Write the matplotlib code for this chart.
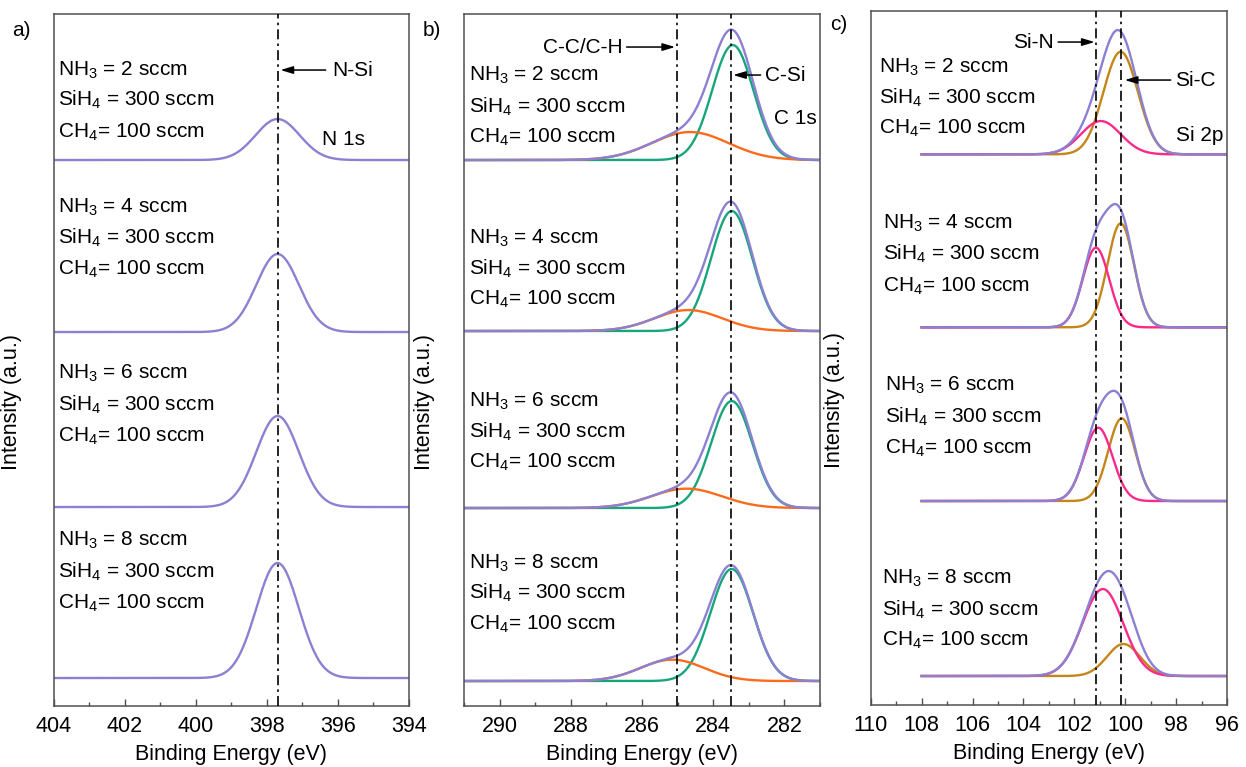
import matplotlib
matplotlib.use("Agg")
import matplotlib.pyplot as plt
from matplotlib.ticker import MultipleLocator
import numpy as np

plt.rcParams['font.family'] = ['Liberation Sans', 'DejaVu Sans']
plt.rcParams['mathtext.fontset'] = 'custom'
plt.rcParams['mathtext.rm'] = 'Liberation Sans'
plt.rcParams['mathtext.it'] = 'Liberation Sans:italic'

# flow conditions for each spectrum (top to bottom)
nh3_flows = [2, 4, 6, 8]

# N 1s peaks (centre eV, height, sigma) and vertical offset of each spectrum
n1s_center = [397.7, 397.7, 397.7, 397.7]
n1s_height = [41, 78, 91, 115]
n1s_sigma = [0.62, 0.6, 0.6, 0.6]
a_offsets = [546, 374, 199, 28]

# C 1s: C-Si and C-C/C-H components
csi_center = [283.45, 283.48, 283.48, 283.48]
csi_height = [115, 120, 107, 112]
csi_sigma = [0.58, 0.58, 0.58, 0.6]
cc_center = [284.65, 284.7, 284.75, 285.15]
cc_height = [28, 21, 19.4, 21.4]
cc_sigma = [1.08, 0.95, 0.99, 0.9]
b_offsets = [546, 375, 198, 25]

# Si 2p: Si-C and Si-N components
sic_center = [100.18, 100.18, 100.14, 100.07]
sic_height = [102.6, 104, 82.7, 32]
sic_sigma = [0.68, 0.52, 0.53, 0.65]
sin_center = [100.96, 101.15, 101.06, 100.88]
sin_height = [33.3, 79.6, 73.3, 87]
sin_sigma = [0.78, 0.52, 0.56, 0.8]
c_offsets = [550.7, 377.7, 204, 29]

# reference lines
n_si_line = 397.7
cc_line = 285.02
csi_line = 283.5
sin_line = 101.15
sic_line = 100.18

env_c = '#8b80d2'
green_c = '#17a57d'
orange_c = '#fb6b1b'
pink_c = '#fb2a8a'
brown_c = '#c4861a'
spine_c = '#505050'
fs = 15


def peak(x, c, h, s):
    return h * np.exp(-(x - c) ** 2 / (2 * s ** 2))


def cond_text(n):
    return ['NH$_3$ = %d sccm' % n, 'SiH$_4$ = 300 sccm', 'CH$_4$= 100 sccm']


def vline(ax, x):
    ax.axvline(x, color='k', lw=1.2, dashes=(6, 2.5, 1.5, 2.5), zorder=5)


def style(ax, lim, major, ylim):
    ax.set_xlim(*lim)
    ax.set_ylim(0, ylim)
    ax.xaxis.set_major_locator(MultipleLocator(major))
    ax.xaxis.set_minor_locator(MultipleLocator(1))
    ax.tick_params(axis='x', which='major', direction='in', length=5, width=1,
                   color=spine_c, labelsize=15.5, pad=7)
    ax.tick_params(axis='x', which='minor', direction='in', length=3, width=1,
                   color=spine_c)
    ax.set_yticks([])
    for s in ax.spines.values():
        s.set_color(spine_c)
        s.set_linewidth(1.1)
    ax.set_xlabel('Binding Energy (eV)', fontsize=15.5, labelpad=5)
    ax.set_ylabel('Intensity (a.u.)', fontsize=15.5)


fig = plt.figure(figsize=(12.46, 7.67), dpi=100)
ax_a = fig.add_axes([0.0433, 0.0795, 0.2849, 0.9022])
ax_b = fig.add_axes([0.3724, 0.0795, 0.2857, 0.9022])
ax_c = fig.add_axes([0.6988, 0.0808, 0.2860, 0.9048])

# ---- a) N 1s
xa = np.linspace(404, 394, 800)
for i in range(4):
    ax_a.plot(xa, a_offsets[i] + peak(xa, n1s_center[i], n1s_height[i], n1s_sigma[i]),
              color=env_c, lw=1.7)
vline(ax_a, n_si_line)
style(ax_a, (404, 394), 2, 692)
ax_a.yaxis.set_label_coords(-0.09, 0.44)
a_text_y = [[636, 606, 574], [499, 468, 437], [333, 301, 270], [166, 134, 103]]
for i in range(4):
    for t, y in zip(cond_text(nh3_flows[i]), a_text_y[i]):
        ax_a.text(0.012, y, t, transform=ax_a.get_yaxis_transform(), fontsize=fs,
                  va='center', ha='left')
ax_a.text(396.45, 567, 'N 1s', fontsize=fs, va='center', ha='left')
ax_a.annotate('N-Si', xy=(397.62, 636), xytext=(396.15, 636), fontsize=fs,
              va='center', ha='left',
              arrowprops=dict(arrowstyle='-|>,head_length=0.5,head_width=0.15',
                              color='k', lw=1.1, shrinkA=3, shrinkB=0))

# ---- b) C 1s
xb = np.linspace(291, 281, 800)
for i in range(4):
    g = peak(xb, csi_center[i], csi_height[i], csi_sigma[i])
    o = peak(xb, cc_center[i], cc_height[i], cc_sigma[i])
    ax_b.plot(xb, b_offsets[i] + g, color=green_c, lw=1.7)
    ax_b.plot(xb, b_offsets[i] + o, color=orange_c, lw=1.7)
    ax_b.plot(xb, b_offsets[i] + g + o, color=env_c, lw=1.7)
vline(ax_b, cc_line)
vline(ax_b, csi_line)
style(ax_b, (291, 281), 2, 692)
ax_b.yaxis.set_label_coords(-0.081, 0.44)
b_text_y = [[631, 599, 569], [468, 437, 407], [305, 274, 244], [143, 113, 82]]
for i in range(4):
    for t, y in zip(cond_text(nh3_flows[i]), b_text_y[i]):
        ax_b.text(0.015, y, t, transform=ax_b.get_yaxis_transform(), fontsize=fs,
                  va='center', ha='left')
ax_b.text(281.1, 588, 'C 1s', fontsize=fs, va='center', ha='right')
ax_b.annotate('C-C/C-H', xy=(285.07, 659), xytext=(286.55, 659), fontsize=fs,
              va='center', ha='right',
              arrowprops=dict(arrowstyle='-|>,head_length=0.5,head_width=0.15',
                              color='k', lw=1.1, shrinkA=1, shrinkB=0))
ax_b.annotate('C-Si', xy=(283.44, 631), xytext=(282.55, 631), fontsize=fs,
              va='center', ha='left',
              arrowprops=dict(arrowstyle='-|>,head_length=0.5,head_width=0.15',
                              color='k', lw=1.1, shrinkA=1, shrinkB=0))

# ---- c) Si 2p
xc = np.linspace(108, 96, 800)
for i in range(4):
    sc = peak(xc, sic_center[i], sic_height[i], sic_sigma[i])
    sn = peak(xc, sin_center[i], sin_height[i], sin_sigma[i])
    ax_c.plot(xc, c_offsets[i] + sc, color=brown_c, lw=1.7)
    ax_c.plot(xc, c_offsets[i] + sn, color=pink_c, lw=1.7)
    ax_c.plot(xc, c_offsets[i] + sc + sn, color=env_c, lw=1.7)
vline(ax_c, sin_line)
vline(ax_c, sic_line)
style(ax_c, (110, 96), 2, 694)
ax_c.yaxis.set_label_coords(-0.072, 0.44)
c_text_y = [[638, 607, 577], [482, 451, 419], [320, 288, 257], [127, 95, 65]]
c_text_x = [0.024, 0.035, 0.04, 0.033]
for i in range(4):
    for t, y in zip(cond_text(nh3_flows[i]), c_text_y[i]):
        ax_c.text(c_text_x[i], y, t, transform=ax_c.get_yaxis_transform(),
                  fontsize=fs, va='center', ha='left')
ax_c.text(96.15, 570, 'Si 2p', fontsize=fs, va='center', ha='right')
ax_c.annotate('Si-N', xy=(101.2, 663), xytext=(102.8, 663), fontsize=fs,
              va='center', ha='right',
              arrowprops=dict(arrowstyle='-|>,head_length=0.5,head_width=0.15',
                              color='k', lw=1.1, shrinkA=1, shrinkB=0))
ax_c.annotate('Si-C', xy=(100.02, 625), xytext=(98.05, 625), fontsize=fs,
              va='center', ha='left',
              arrowprops=dict(arrowstyle='-|>,head_length=0.5,head_width=0.15',
                              color='k', lw=1.1, shrinkA=1, shrinkB=0))

# panel letters
fig.text(12 / 1246, 1 - 30 / 767, 'a)', fontsize=fs, va='center', ha='left')
fig.text(423 / 1246, 1 - 30 / 767, 'b)', fontsize=fs, va='center', ha='left')
fig.text(830 / 1246, 1 - 24 / 767, 'c)', fontsize=fs, va='center', ha='left')

fig.savefig('out.png', dpi=100)
